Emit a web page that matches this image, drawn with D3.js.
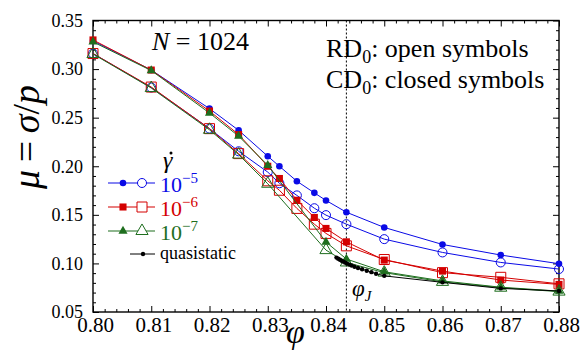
<!DOCTYPE html>
<html>
<head>
<meta charset="utf-8">
<script src="https://cdn.jsdelivr.net/npm/d3@7"></script>
<style>
  body { margin: 0; background: #fff; }
  svg text { font-family: "Liberation Serif", "Times New Roman", serif; }
</style>
</head>
<body>
<div id="chart"></div>
<script>
// phi values and friction coefficient mu = sigma/p
const phiDyn = [0.80, 0.81, 0.82, 0.825, 0.83, 0.832, 0.835, 0.838, 0.84, 0.8435, 0.85, 0.86, 0.87, 0.88];
const blueClosed = [0.329, 0.299, 0.2593, 0.237, 0.2103, 0.200, 0.1846, 0.1726, 0.1648, 0.1527, 0.137, 0.1195, 0.1086, 0.0997];
const blueOpen   = [0.316, 0.281, 0.2387, 0.2154, 0.194, 0.1825, 0.170, 0.1568, 0.1497, 0.1404, 0.125, 0.1113, 0.101, 0.0942];
const redClosed  = [0.330, 0.299, 0.2568, 0.2326, 0.200, 0.1874, 0.165, 0.1473, 0.136, 0.1222, 0.1034, 0.0921, 0.0829, 0.0784];
const redOpen    = [0.316, 0.2815, 0.2387, 0.213, 0.185, 0.1753, 0.1566, 0.1404, 0.1309, 0.1181, 0.104, 0.0905, 0.0857, 0.0790];

const phiGreen = [0.80, 0.81, 0.82, 0.825, 0.83, 0.84, 0.8435, 0.85, 0.86, 0.87, 0.88];
const greenClosed = [0.328, 0.2985, 0.2548, 0.231, 0.201, 0.122, 0.1045, 0.0914, 0.082, 0.0755, 0.0715];
const greenOpen   = [0.3155, 0.2805, 0.2375, 0.212, 0.182, 0.1137, 0.101, 0.0905, 0.081, 0.075, 0.071];

const phiQS = [0.8418, 0.8421, 0.8424, 0.8427, 0.8430, 0.8433, 0.8436, 0.8440, 0.8444, 0.8449, 0.8455, 0.8462, 0.8470, 0.8478, 0.8486, 0.8500, 0.86, 0.87, 0.88];
const muQS  = [0.1060, 0.1048, 0.1038, 0.1028, 0.1018, 0.1008, 0.0998, 0.0988, 0.0978, 0.0966, 0.0953, 0.0940, 0.0925, 0.0910, 0.0893, 0.0872, 0.0805, 0.0743, 0.0716];

const phiJ = 0.8435;
const xTicks = [0.80, 0.81, 0.82, 0.83, 0.84, 0.85, 0.86, 0.87, 0.88];
const yTicks = [0.05, 0.10, 0.15, 0.20, 0.25, 0.30, 0.35];
const rateLabels = ["5", "6", "7"];

const width = 586, height = 352;
const margin = {top: 20.5, right: 27, bottom: 40, left: 93};
const SERIF = '"Liberation Serif", "Times New Roman", serif';

const BLUE = "#0a0ae6", RED = "#d40000", GREEN = "#1e6e1e";

const svg = d3.select("#chart").append("svg")
    .attr("width", width)
    .attr("height", height)
    .style("font-family", SERIF);

const x = d3.scaleLinear().domain([0.80, 0.88]).range([margin.left, width - margin.right]);
const y = d3.scaleLinear().domain([0.05, 0.35]).range([height - margin.bottom, margin.top]);

const x0 = margin.left, x1 = width - margin.right, y0 = height - margin.bottom, y1 = margin.top;

// minor ticks
const xMinor = d3.range(0, 41).map(i => 0.80 + i * 0.002).filter(v => Math.round(v * 1000) % 10 !== 0);
const yMinor = d3.range(0, 31).map(i => 0.05 + i * 0.01).filter(v => Math.round(v * 100) % 5 !== 0);

function addAxes() {
    // bottom
    const gb = svg.append("g").attr("transform", `translate(0,${y0})`)
        .call(d3.axisBottom(x).tickValues(xTicks).tickSize(-6).tickPadding(5).tickFormat(d3.format(".2f")));
    gb.attr("font-family", SERIF);
    gb.selectAll("text").style("font-size", "21px").style("font-family", SERIF).attr("dx", "2");
    svg.append("g").attr("transform", `translate(0,${y0})`)
        .call(d3.axisBottom(x).tickValues(xMinor).tickSize(-3).tickFormat(""));
    // top
    svg.append("g").attr("transform", `translate(0,${y1})`)
        .call(d3.axisTop(x).tickValues(xTicks).tickSize(-6).tickFormat(""));
    svg.append("g").attr("transform", `translate(0,${y1})`)
        .call(d3.axisTop(x).tickValues(xMinor).tickSize(-3).tickFormat(""));
    // left
    const gl = svg.append("g").attr("transform", `translate(${x0},0)`)
        .call(d3.axisLeft(y).tickValues(yTicks).tickSize(-6).tickPadding(10).tickFormat(d3.format(".2f")));
    gl.attr("font-family", SERIF);
    gl.selectAll("text").style("font-size", "18px").style("font-family", SERIF);
    svg.append("g").attr("transform", `translate(${x0},0)`)
        .call(d3.axisLeft(y).tickValues(yMinor).tickSize(-3).tickFormat(""));
    // right
    svg.append("g").attr("transform", `translate(${x1},0)`)
        .call(d3.axisRight(y).tickValues(yTicks).tickSize(-6).tickFormat(""));
    svg.append("g").attr("transform", `translate(${x1},0)`)
        .call(d3.axisRight(y).tickValues(yMinor).tickSize(-3).tickFormat(""));

    svg.selectAll(".domain").remove();
    svg.selectAll(".tick line").attr("stroke", "#000").attr("stroke-width", 1);
    svg.selectAll(".tick text").attr("fill", "#000");

    svg.append("rect")
        .attr("x", x0).attr("y", y1)
        .attr("width", x1 - x0).attr("height", y0 - y1)
        .attr("fill", "none").attr("stroke", "#000").attr("stroke-width", 1.4);
}

addAxes();

// phi_J dotted line
svg.append("line")
    .attr("x1", x(phiJ)).attr("x2", x(phiJ))
    .attr("y1", y1).attr("y2", y0)
    .attr("stroke", "#000").attr("stroke-width", 1)
    .attr("stroke-dasharray", "2,2");

const line = d3.line().x(d => x(d[0])).y(d => y(d[1]));

const symbolFor = {
    circle: {closed: d3.symbol(d3.symbolCircle, 34), open: d3.symbol(d3.symbolCircle, 64)},
    square: {closed: d3.symbol(d3.symbolSquare, 50), open: d3.symbol(d3.symbolSquare, 100)},
    triangle: {closed: d3.symbol(d3.symbolTriangle, 36), open: d3.symbol(d3.symbolTriangle, 64)}
};

function drawSeries(phis, mus, color, shape, filled) {
    const pts = phis.map((p, i) => [p, mus[i]]);
    svg.append("path")
        .datum(pts)
        .attr("d", line)
        .attr("fill", "none")
        .attr("stroke", color)
        .attr("stroke-width", 1);
    svg.append("g").selectAll("path")
        .data(pts)
        .enter().append("path")
        .attr("transform", d => `translate(${x(d[0])},${y(d[1])})`)
        .attr("d", symbolFor[shape][filled ? "closed" : "open"]())
        .attr("fill", filled ? color : "none")
        .attr("stroke", color)
        .attr("stroke-width", filled ? 0 : 1);
}

drawSeries(phiDyn, blueOpen, BLUE, "circle", false);
drawSeries(phiDyn, blueClosed, BLUE, "circle", true);
drawSeries(phiDyn, redOpen, RED, "square", false);
drawSeries(phiDyn, redClosed, RED, "square", true);
drawSeries(phiGreen, greenOpen, GREEN, "triangle", false);
drawSeries(phiGreen, greenClosed, GREEN, "triangle", true);

// quasistatic
const qsPts = phiQS.map((p, i) => [p, muQS[i]]);
svg.append("path").datum(qsPts).attr("d", line)
    .attr("fill", "none").attr("stroke", "#000").attr("stroke-width", 1);
svg.append("g").selectAll("circle").data(qsPts).enter().append("circle")
    .attr("cx", d => x(d[0])).attr("cy", d => y(d[1])).attr("r", 2.2).attr("fill", "#000");

// legend
const legendRows = [
    {color: BLUE, shape: "circle", y: 183},
    {color: RED, shape: "square", y: 207},
    {color: GREEN, shape: "triangle", y: 231}
];
svg.append("text").attr("x", 163).attr("y", 168)
    .style("font-size", "24px").style("font-style", "italic").text("γ");
svg.append("circle").attr("cx", 171).attr("cy", 153).attr("r", 1.5).attr("fill", "#000");

legendRows.forEach((r, i) => {
    svg.append("line").attr("x1", 108).attr("x2", 155).attr("y1", r.y).attr("y2", r.y)
        .attr("stroke", r.color).attr("stroke-width", 1.2);
    svg.append("path").attr("transform", `translate(123,${r.y})`)
        .attr("d", symbolFor[r.shape].closed()).attr("fill", r.color);
    svg.append("path").attr("transform", `translate(142,${r.y})`)
        .attr("d", symbolFor[r.shape].open()).attr("fill", "#fff").attr("stroke", r.color);
    const t = svg.append("text").attr("x", 160).attr("y", r.y + 9)
        .attr("fill", r.color).style("font-size", "22px");
    t.append("tspan").text("10");
    t.append("tspan").attr("dy", -9).style("font-size", "15px").text("−" + rateLabels[i]);
});
svg.append("line").attr("x1", 130).attr("x2", 155).attr("y1", 254).attr("y2", 254)
    .attr("stroke", "#000").attr("stroke-width", 1);
svg.append("circle").attr("cx", 143).attr("cy", 254).attr("r", 2.2).attr("fill", "#000");
svg.append("text").attr("x", 160).attr("y", 259).style("font-size", "18px").text("quasistatic");

// annotations
const nText = svg.append("text").attr("x", 152).attr("y", 50).style("font-size", "26px");
nText.append("tspan").style("font-style", "italic").text("N");
nText.append("tspan").text(" = 1024");

[["R", "open symbols", 57], ["C", "closed symbols", 88]].forEach(([c, label, yy]) => {
    const t = svg.append("text").attr("x", 326).attr("y", yy).style("font-size", "26px");
    t.append("tspan").text(c + "D");
    t.append("tspan").attr("dy", 6).style("font-size", "18px").text("0");
    t.append("tspan").attr("dy", -6).text(": " + label);
});

const pj = svg.append("text").attr("x", 352).attr("y", 296).style("font-size", "23px").style("font-style", "italic");
pj.append("tspan").text("φ");
pj.append("tspan").attr("dy", 5).style("font-size", "15px").text("J");

// axis titles
svg.append("text").attr("x", 286).attr("y", 343)
    .style("font-size", "34px").style("font-style", "italic").text("φ");

const yl = svg.append("text")
    .attr("transform", "translate(39,137) rotate(-90)")
    .attr("text-anchor", "middle")
    .style("font-size", "38px");
yl.append("tspan").style("font-style", "italic").text("μ");
yl.append("tspan").text("\u2009=\u2009");
yl.append("tspan").style("font-style", "italic").text("σ");
yl.append("tspan").text("/");
yl.append("tspan").style("font-style", "italic").text("p");
</script>
</body>
</html>
